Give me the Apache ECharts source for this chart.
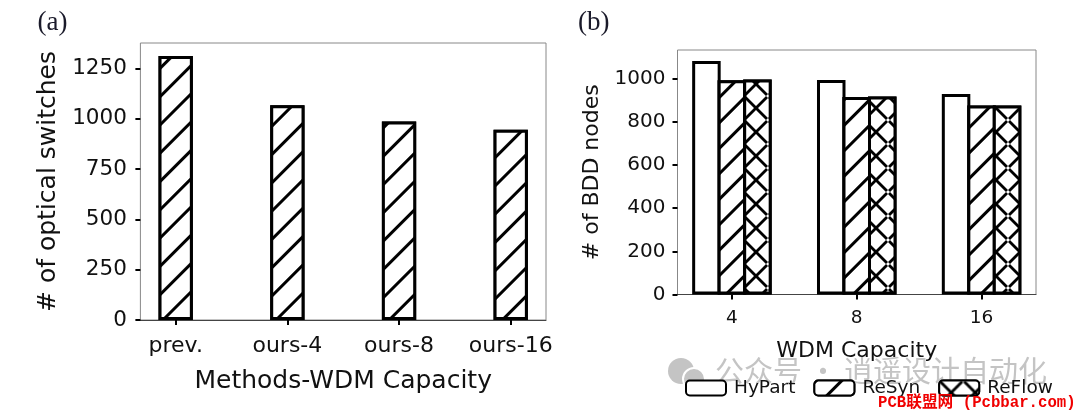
<!DOCTYPE html>
<html><head><meta charset="utf-8">
<style>html,body{margin:0;padding:0;background:#fff}#c{width:1080px;height:418px}</style>
<script src="https://cdn.jsdelivr.net/npm/echarts@6/dist/echarts.min.js"></script>
</head><body><div id="c"></div>
<script>
const methods = ['prev.', 'ours-4', 'ours-8', 'ours-16'];
const switches = [1312, 1067, 987, 946];
const capacities = ['4', '8', '16'];
const hyPart = [1081, 993, 928];
const reSyn = [992, 914, 875];
const reFlow = [995, 917, 875];
const leftTicks = [0, 250, 500, 750, 1000, 1250];
const rightTicks = [0, 200, 400, 600, 800, 1000];

const FONT = '"DejaVu Sans"';
const slashDecal = (gap) => ({
  symbol: 'rect', symbolSize: 1, rotation: -Math.PI / 4,
  dashArrayX: [1, 0], dashArrayY: [2.6, gap],
  color: '#000', backgroundColor: '#fff', maxTileWidth: 512, maxTileHeight: 512
});
const crossDecal = {
  symbol: 'path://M0 2L2 0L12 10L22 0L24 2L14 12L24 22L22 24L12 14L2 24L0 22L10 12Z',
  symbolSize: 1, symbolKeepAspect: false,
  dashArrayX: [24, 0], dashArrayY: [24, 0], rotation: 0,
  color: '#000', backgroundColor: '#fff'
};
const pts = (arr) => arr.map((v, i) => [i, v]);
const xAxisBase = (grid, labels, min, max, name, gap, size, nameSize, margin) => ({
  type: 'value', gridIndex: grid, min, max, name, nameLocation: 'middle', nameGap: gap,
  nameTextStyle: { fontFamily: FONT, fontSize: nameSize, color: '#111' },
  splitLine: { show: false },
  axisLine: { show: true, onZero: false, lineStyle: { color: '#444', width: 1 } },
  axisTick: { show: true, length: 5, customValues: labels.map((_, i) => i), lineStyle: { color: '#000', width: 2 } },
  axisLabel: { customValues: labels.map((_, i) => i), formatter: (v) => labels[Math.round(v)], margin,
    fontFamily: FONT, fontSize: size, color: '#111' }
});
const yAxisBase = (grid, ticks, max, name, gap, size, nameSize, margin) => ({
  type: 'value', gridIndex: grid, min: 0, max, name, nameLocation: 'middle', nameGap: gap,
  nameTextStyle: { fontFamily: FONT, fontSize: nameSize, color: '#111' },
  splitLine: { show: false },
  axisLine: { show: false, onZero: false },
  axisTick: { show: true, length: 5, customValues: ticks, lineStyle: { color: '#000', width: 2 } },
  axisLabel: { customValues: ticks, formatter: (v) => String(v), margin, fontFamily: FONT, fontSize: size, color: '#111' }
});
const border = { borderColor: '#000', borderWidth: 3 };

const option = {
  animation: false,
  backgroundColor: '#fff',
  title: [
    { text: '(a)', left: 32.5, top: 4, textStyle: { fontFamily: '"Liberation Serif"', fontSize: 27, fontWeight: 'normal', color: '#1a1a2a' } },
    { text: '(b)', left: 573, top: 4, textStyle: { fontFamily: '"Liberation Serif"', fontSize: 27, fontWeight: 'normal', color: '#1a1a2a' } }
  ],
  grid: [
    { left: 140.4, top: 43, width: 405.6, height: 277, show: true, borderColor: '#888', borderWidth: 1, backgroundColor: '#fff' },
    { left: 677.5, top: 50, width: 358.5, height: 244.5, show: true, borderColor: '#888', borderWidth: 1, backgroundColor: '#fff' }
  ],
  xAxis: [
    xAxisBase(0, methods, -0.316, 3.316, 'Methods-WDM Capacity', 49, 22, 25, 15),
    xAxisBase(1, capacities, -0.436, 2.436, 'WDM Capacity', 46, 18.5, 22, 14)
  ],
  yAxis: [
    yAxisBase(0, leftTicks, 1377, '# of optical switches', 79, 21.5, 25, 13.5),
    yAxisBase(1, rightTicks, 1132, '# of BDD nodes', 74, 20, 22, 12)
  ],
  legend: {
    data: ['HyPart', 'ReSyn', 'ReFlow'], left: 680, top: 373.5, orient: 'horizontal',
    itemWidth: 40, itemHeight: 15, itemGap: 18, icon: 'roundRect', selectedMode: false,
    textStyle: { fontFamily: FONT, fontSize: 18.5, color: '#111', padding: [0, 0, 0, 3] }
  },
  graphic: [
    { type: 'circle', shape: { cx: 681, cy: 371, r: 13 }, style: { fill: '#c4c4c4' }, z: -1, silent: true },
    { type: 'circle', shape: { cx: 694, cy: 379, r: 11 }, style: { fill: '#c4c4c4', stroke: '#fff', lineWidth: 2 }, z: -1, silent: true },
    { type: 'text', left: 715, top: 356, z: -1, silent: true,
      style: { text: '公众号 · 逍遥设计自动化', fontFamily: '"Noto Sans CJK SC"', fontSize: 29, fill: '#c4c4c4' } },
    { type: 'text', left: 878, top: 395, z: 50, silent: true,
      style: { text: 'PCB联盟网 (Pcbbar.com)', fontFamily: '"Liberation Mono","Noto Sans CJK SC"', fontSize: 15.7, fontWeight: 'bold', fill: '#f00000' } },
    { type: 'rect', shape: { x: 650, y: 303, width: 22, height: 8 }, style: { fill: '#fff' }, z: 50, silent: true }
  ],
  series: [
    { name: 'Switches', type: 'bar', xAxisIndex: 0, yAxisIndex: 0, barWidth: 34.3, data: pts(switches),
      itemStyle: { ...border, color: '#fff', decal: slashDecal(16.7) } },
    { name: 'HyPart', type: 'bar', xAxisIndex: 1, yAxisIndex: 1, barWidth: 28.5, barGap: '-10.5%', data: pts(hyPart),
      itemStyle: { ...border, color: '#fff' } },
    { name: 'ReSyn', type: 'bar', xAxisIndex: 1, yAxisIndex: 1, barWidth: 28.5, barGap: '-10.5%', data: pts(reSyn),
      itemStyle: { ...border, color: '#fff', decal: slashDecal(14.5) } },
    { name: 'ReFlow', type: 'bar', xAxisIndex: 1, yAxisIndex: 1, barWidth: 28.5, barGap: '-10.5%', data: pts(reFlow),
      itemStyle: { ...border, color: '#fff', decal: crossDecal } }
  ]
};
const chart = echarts.init(document.getElementById('c'), null, { renderer: 'canvas' });
chart.setOption(option);
</script></body></html>
